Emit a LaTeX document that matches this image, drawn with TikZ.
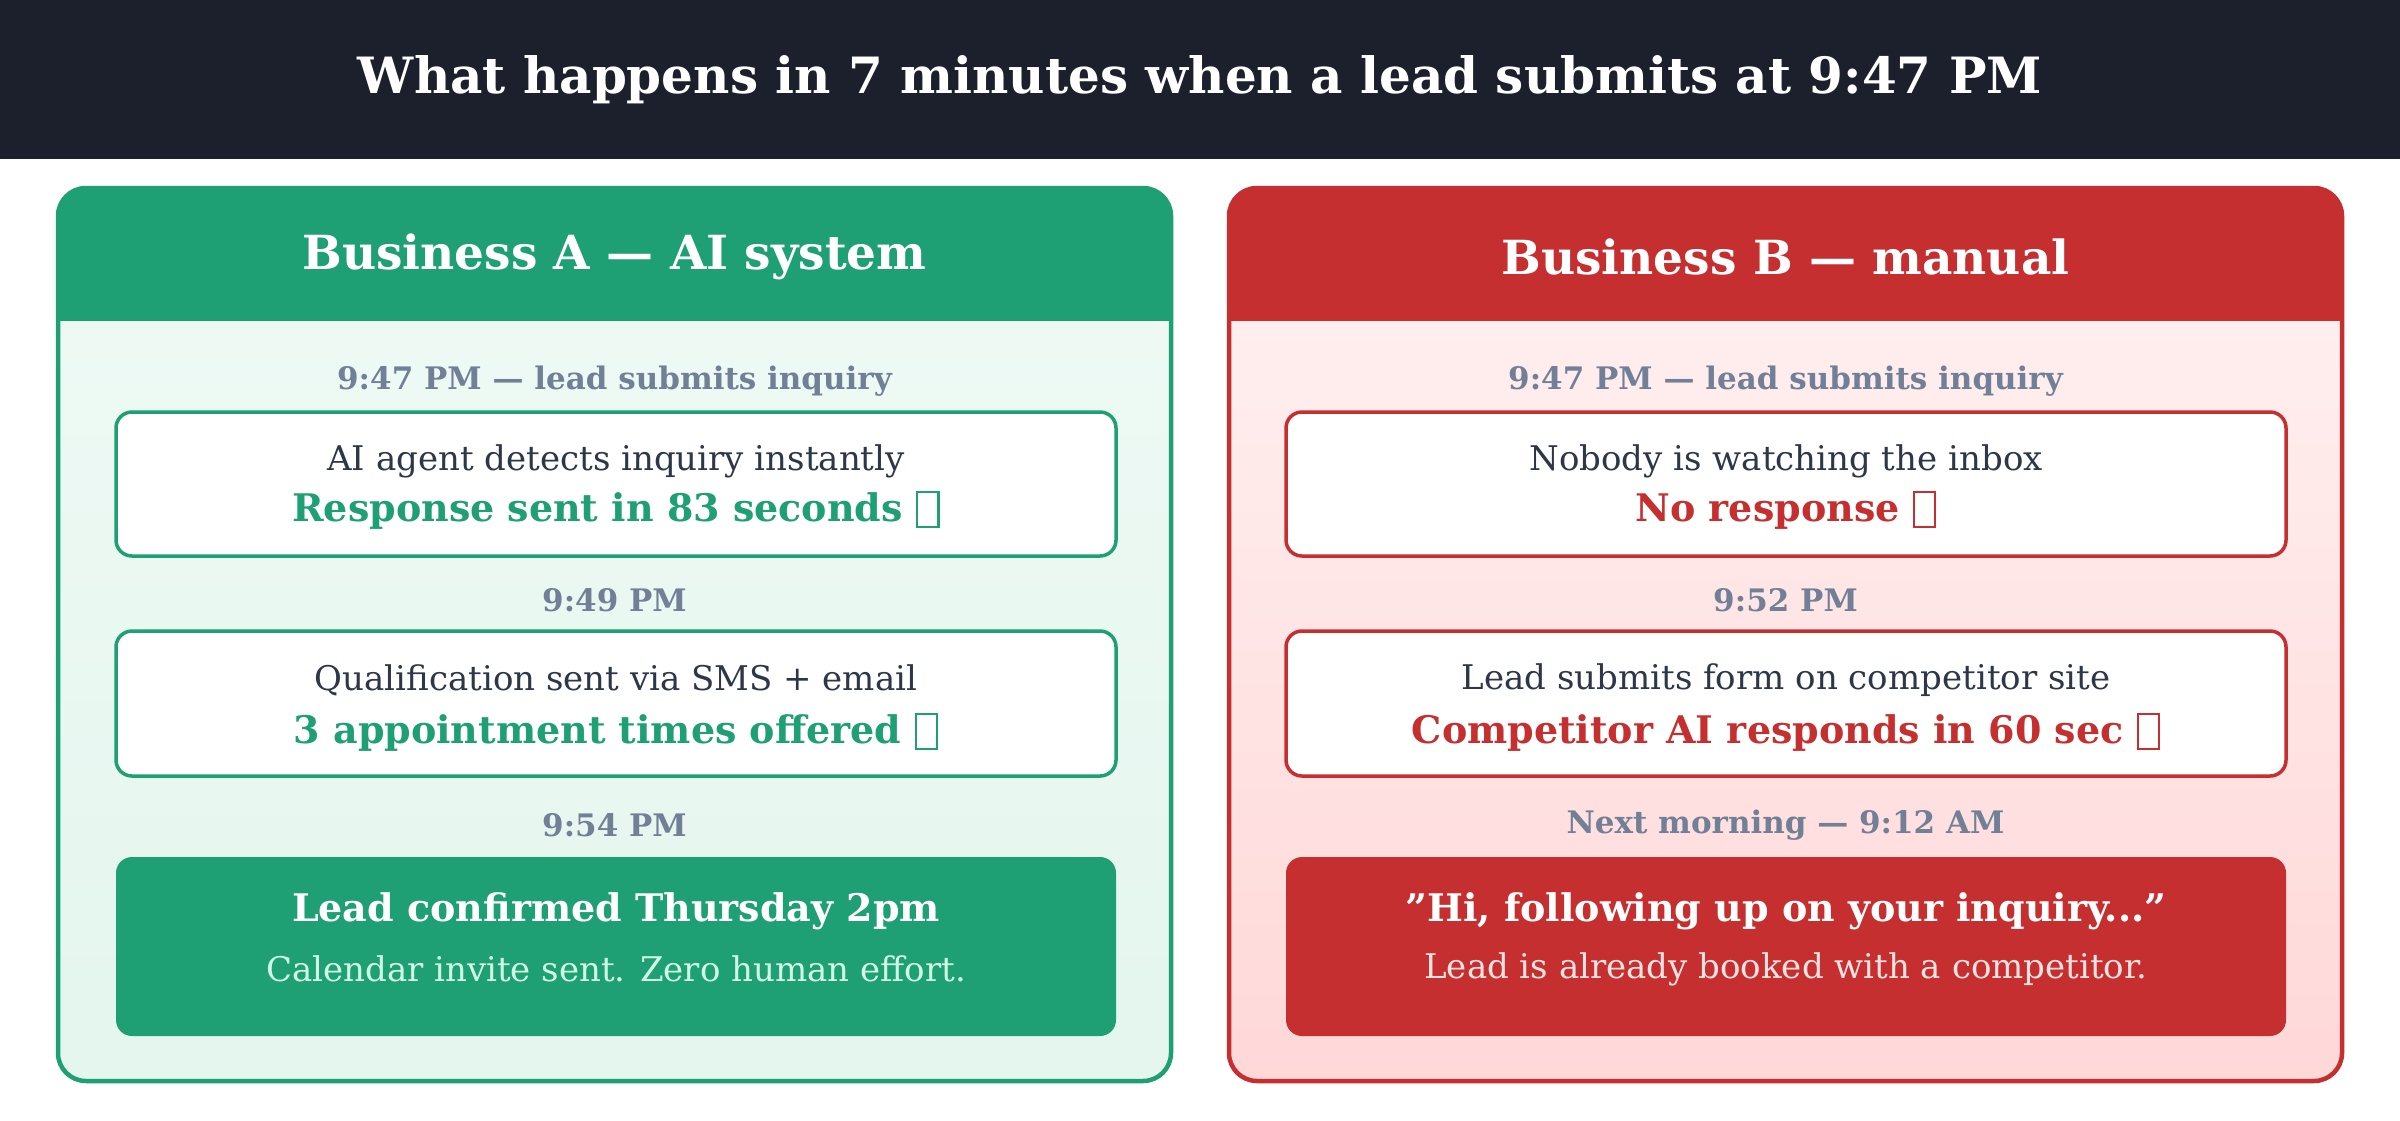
\documentclass[tikz,border=0pt]{standalone}
\usepackage{fontspec}
\setmainfont{DejaVu Serif}
\definecolor{hdr}{HTML}{1C202C}
\definecolor{grn}{HTML}{1E9F74}
\definecolor{red}{HTML}{C62F2F}
\definecolor{gfa}{HTML}{EEF9F4}
\definecolor{gfb}{HTML}{E4F6EE}
\definecolor{rfa}{HTML}{FFEEEE}
\definecolor{rfb}{HTML}{FFD8D8}
\definecolor{tgrey}{HTML}{718096}
\definecolor{tdark}{HTML}{2D3748}
\definecolor{gsub}{HTML}{D1FAE5}
\definecolor{rsub}{HTML}{FDE2E2}
\newcommand{\tofu}{\raisebox{-0.12em}{\fboxsep=0pt\fboxrule=0.06em\fbox{\rule{0pt}{0.85em}\hspace{0.5em}}}}
\newcommand{\fsz}[1]{\fontsize{#1}{#1}\selectfont}
\tikzset{
 x=1pt,y=-1pt,
 ttl/.style={text=white,font=\fsz{50}\bfseries},
 ptitle/.style={text=white,font=\fsz{47}\bfseries},
 tlabel/.style={text=tgrey,font=\fsz{31}\bfseries},
 line1/.style={text=tdark,font=\fsz{34}},
 line2/.style={font=\fsz{38}\bfseries},
 cardb/.style={draw=#1,line width=3.5pt,fill=white,rounded corners=16pt},
 cardf/.style={fill=#1,rounded corners=16pt},
}
\begin{document}
\begin{tikzpicture}
\useasboundingbox (0,0) rectangle (2400,1120);
\fill[white] (0,0) rectangle (2400,1120);
\fill[hdr] (0,0) rectangle (2400,159);
\node[ttl] (title) at (1200,80) {What happens in 7 minutes when a lead submits at 9:47 PM};
% left panel
\begin{scope}
\clip[rounded corners=28pt] (58,188) rectangle (1171,1081);
\shade[top color=gfa,bottom color=gfb] (58,321) rectangle (1171,1081);
\fill[grn] (58,188) rectangle (1171,321);
\end{scope}
\draw[grn,line width=4.5pt,rounded corners=28pt] (58,188) rectangle (1171,1081);
\node[ptitle] (lt) at (614.5,257) {Business A — AI system};
\node[tlabel] (lt1) at (614.5,381) {9:47 PM — lead submits inquiry};
\draw[cardb=grn] (116,412) rectangle (1116,556);
\node[line1] (l1a) at (616,461) {AI agent detects inquiry instantly};
\node[line2,text=grn] (l1b) at (616,510) {Response sent in 83 seconds \tofu};
\node[tlabel] (lt2) at (614.5,600) {9:49 PM};
\draw[cardb=grn] (116,631) rectangle (1116,776);
\node[line1] (l2a) at (616,680) {Qualification sent via SMS + email};
\node[line2,text=grn] (l2b) at (616,732) {3 appointment times offered \tofu};
\node[tlabel] (lt3) at (614.5,825) {9:54 PM};
\fill[cardf=grn] (116,857) rectangle (1116,1036);
\node[line2,text=white] (l3a) at (616,911) {Lead confirmed Thursday 2pm};
\node[line1,text=gsub] (l3b) at (616,969) {Calendar invite sent. Zero human effort.};
% right panel
\begin{scope}
\clip[rounded corners=28pt] (1229,188) rectangle (2342,1081);
\shade[top color=rfa,bottom color=rfb] (1229,321) rectangle (2342,1081);
\fill[red] (1229,188) rectangle (2342,321);
\end{scope}
\draw[red,line width=4.5pt,rounded corners=28pt] (1229,188) rectangle (2342,1081);
\node[ptitle] (rt) at (1785.5,257) {Business B — manual};
\node[tlabel] (rt1) at (1785.5,381) {9:47 PM — lead submits inquiry};
\draw[cardb=red] (1286,412) rectangle (2286,556);
\node[line1] (r1a) at (1786,461) {Nobody is watching the inbox};
\node[line2,text=red] (r1b) at (1786,510) {No response \tofu};
\node[tlabel] (rt2) at (1785.5,600) {9:52 PM};
\draw[cardb=red] (1286,631) rectangle (2286,776);
\node[line1] (r2a) at (1786,680) {Lead submits form on competitor site};
\node[line2,text=red] (r2b) at (1786,732) {Competitor AI responds in 60 sec \tofu};
\node[tlabel] (rt3) at (1785.5,825) {Next morning — 9:12 AM};
\fill[cardf=red] (1286,857) rectangle (2286,1036);
\node[line2,text=white] (r3a) at (1786,911) {"Hi, following up on your inquiry..."};
\node[line1,text=rsub] (r3b) at (1786,969) {Lead is already booked with a competitor.};
\end{tikzpicture}
\end{document}
